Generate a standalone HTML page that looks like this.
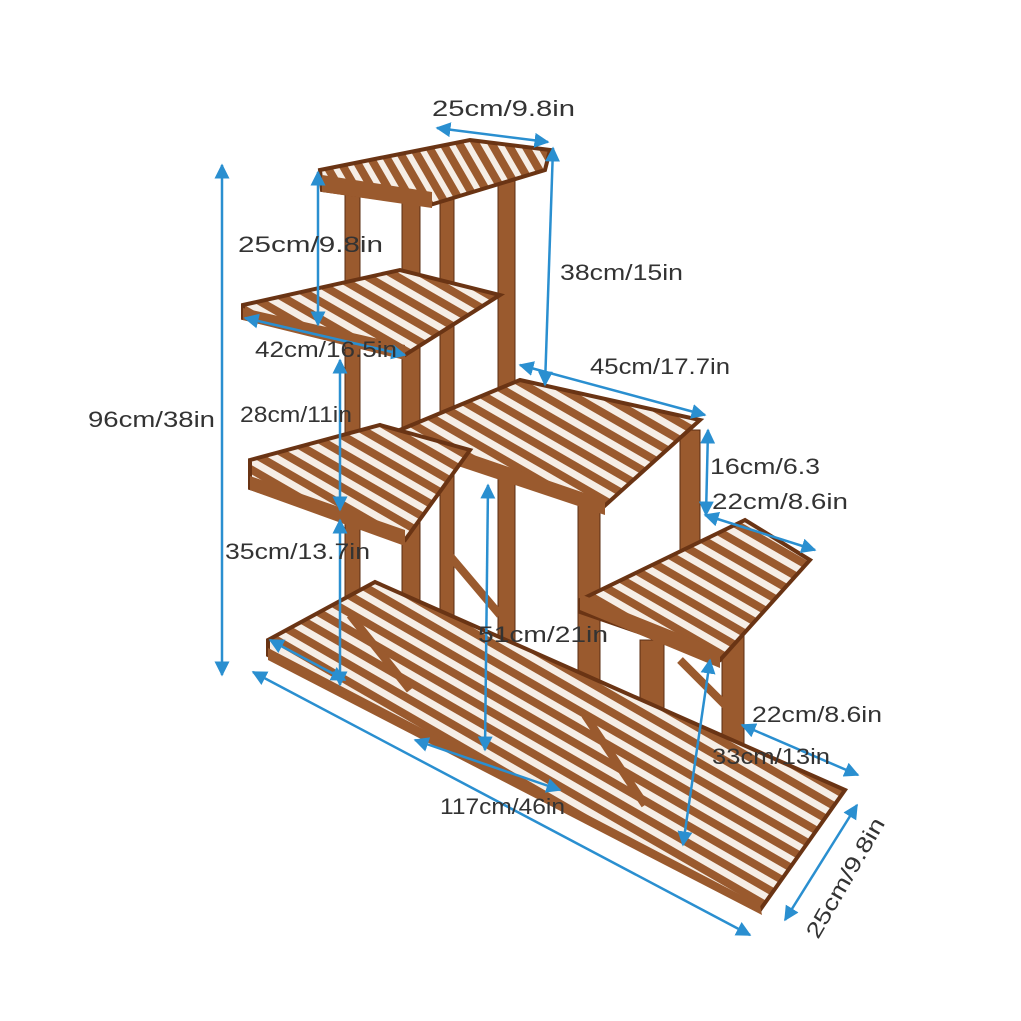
<!DOCTYPE html>
<html><head><meta charset="utf-8"><style>
html,body{margin:0;padding:0;background:#fff;width:1021px;height:1021px;overflow:hidden}
svg text{font-family:"Liberation Sans",sans-serif;font-size:22px;fill:#333}
</style></head><body>
<svg width="1021" height="1021" viewBox="0 0 1021 1021" xmlns="http://www.w3.org/2000/svg">
<defs>
<marker id="a" viewBox="0 0 10 10" refX="9" refY="5" markerWidth="6" markerHeight="6" orient="auto-start-reverse"><path d="M0,0L10,5L0,10z" fill="#2a8fd0"/></marker>
<pattern id="sl" width="14" height="14" patternUnits="userSpaceOnUse" patternTransform="rotate(-30)"><rect width="14" height="14" fill="#f6eee6"/><rect width="8" height="14" fill="#9a5a2e"/></pattern>
<pattern id="sl2" width="15" height="15" patternUnits="userSpaceOnUse" patternTransform="rotate(-60)"><rect width="15" height="15" fill="#f6eee6"/><rect width="8" height="15" fill="#9a5a2e"/></pattern>
</defs>
<g fill="#9a5a2e" stroke="#5a2c12" stroke-width="1">
<rect x="345" y="185" width="15" height="505"/>
<rect x="402" y="200" width="18" height="510"/>
<rect x="440" y="180" width="14" height="440"/>
<rect x="498" y="160" width="17" height="490"/>
<rect x="578" y="500" width="22" height="300"/>
<rect x="640" y="640" width="24" height="190"/>
<rect x="680" y="430" width="20" height="170"/>
<rect x="722" y="560" width="22" height="190"/>
</g>
<polygon points="268,640 375,582 845,790 760,910 268,655" fill="url(#sl2)" stroke="#6a3414" stroke-width="4"/>
<polygon points="268,648 760,905 762,915 268,660" fill="#9a5a2e"/>
<polygon points="580,600 745,520 810,560 720,660 580,612" fill="url(#sl2)" stroke="#6a3414" stroke-width="4"/>
<polygon points="580,594 720,650 720,668 580,610" fill="#9a5a2e"/>
<polygon points="395,432 520,380 700,420 600,510 395,442" fill="url(#sl2)" stroke="#6a3414" stroke-width="4"/>
<polygon points="395,428 605,500 605,515 395,445" fill="#9a5a2e"/>
<polygon points="250,460 380,425 470,450 405,540 250,488" fill="url(#sl2)" stroke="#6a3414" stroke-width="4"/>
<polygon points="250,476 405,530 405,546 250,490" fill="#9a5a2e"/>
<polygon points="243,305 400,270 500,295 405,355 243,318" fill="url(#sl2)" stroke="#6a3414" stroke-width="4"/>
<polygon points="243,308 405,345 405,360 243,320" fill="#9a5a2e"/>
<polygon points="320,170 470,140 550,150 545,170 430,205 322,190" fill="url(#sl)" stroke="#6a3414" stroke-width="4"/>
<polygon points="322,175 432,192 432,208 322,192" fill="#9a5a2e"/>
<g stroke="#9a5a2e" stroke-width="8">
<line x1="350" y1="615" x2="410" y2="690"/><line x1="585" y1="715" x2="645" y2="805"/><line x1="445" y1="550" x2="500" y2="615"/><line x1="680" y1="660" x2="730" y2="710"/>
</g>
<g stroke="#2a8fd0" stroke-width="2.5" marker-start="url(#a)" marker-end="url(#a)" fill="none">
<line x1="222" y1="165" x2="222" y2="675"/>
<line x1="437" y1="128" x2="548" y2="142"/>
<line x1="553" y1="148" x2="545" y2="385"/>
<line x1="318" y1="172" x2="318" y2="325"/>
<line x1="245" y1="318" x2="405" y2="355"/>
<line x1="520" y1="365" x2="705" y2="415"/>
<line x1="340" y1="360" x2="340" y2="510"/>
<line x1="708" y1="430" x2="706" y2="515"/>
<line x1="705" y1="515" x2="815" y2="550"/>
<line x1="340" y1="520" x2="340" y2="685"/>
<line x1="488" y1="485" x2="485" y2="750"/>
<line x1="742" y1="725" x2="858" y2="775"/>
<line x1="710" y1="660" x2="683" y2="845"/>
<line x1="253" y1="672" x2="750" y2="935"/>
<line x1="857" y1="805" x2="785" y2="920"/>
<line x1="270" y1="640" x2="345" y2="680"/>
<line x1="415" y1="740" x2="560" y2="790"/>
</g>
<text x="432" y="116" textLength="143" lengthAdjust="spacingAndGlyphs">25cm/9.8in</text>
<text x="560" y="280" textLength="123" lengthAdjust="spacingAndGlyphs">38cm/15in</text>
<text x="238" y="252" textLength="145" lengthAdjust="spacingAndGlyphs">25cm/9.8in</text>
<text x="255" y="357" textLength="142" lengthAdjust="spacingAndGlyphs">42cm/16.5in</text>
<text x="88" y="427" textLength="127" lengthAdjust="spacingAndGlyphs">96cm/38in</text>
<text x="590" y="374" textLength="140" lengthAdjust="spacingAndGlyphs">45cm/17.7in</text>
<text x="240" y="422" textLength="112" lengthAdjust="spacingAndGlyphs">28cm/11in</text>
<text x="710" y="474" textLength="110" lengthAdjust="spacingAndGlyphs">16cm/6.3</text>
<text x="712" y="509" textLength="136" lengthAdjust="spacingAndGlyphs">22cm/8.6in</text>
<text x="225" y="559" textLength="145" lengthAdjust="spacingAndGlyphs">35cm/13.7in</text>
<text x="478" y="642" textLength="130" lengthAdjust="spacingAndGlyphs">51cm/21in</text>
<text x="752" y="722" textLength="130" lengthAdjust="spacingAndGlyphs">22cm/8.6in</text>
<text x="712" y="764" textLength="118" lengthAdjust="spacingAndGlyphs">33cm/13in</text>
<text x="440" y="814" textLength="125" lengthAdjust="spacingAndGlyphs">117cm/46in</text>
<text x="0" y="0" transform="translate(818,940) rotate(-60)" textLength="135" lengthAdjust="spacingAndGlyphs">25cm/9.8in</text>
</svg>
</body></html>
